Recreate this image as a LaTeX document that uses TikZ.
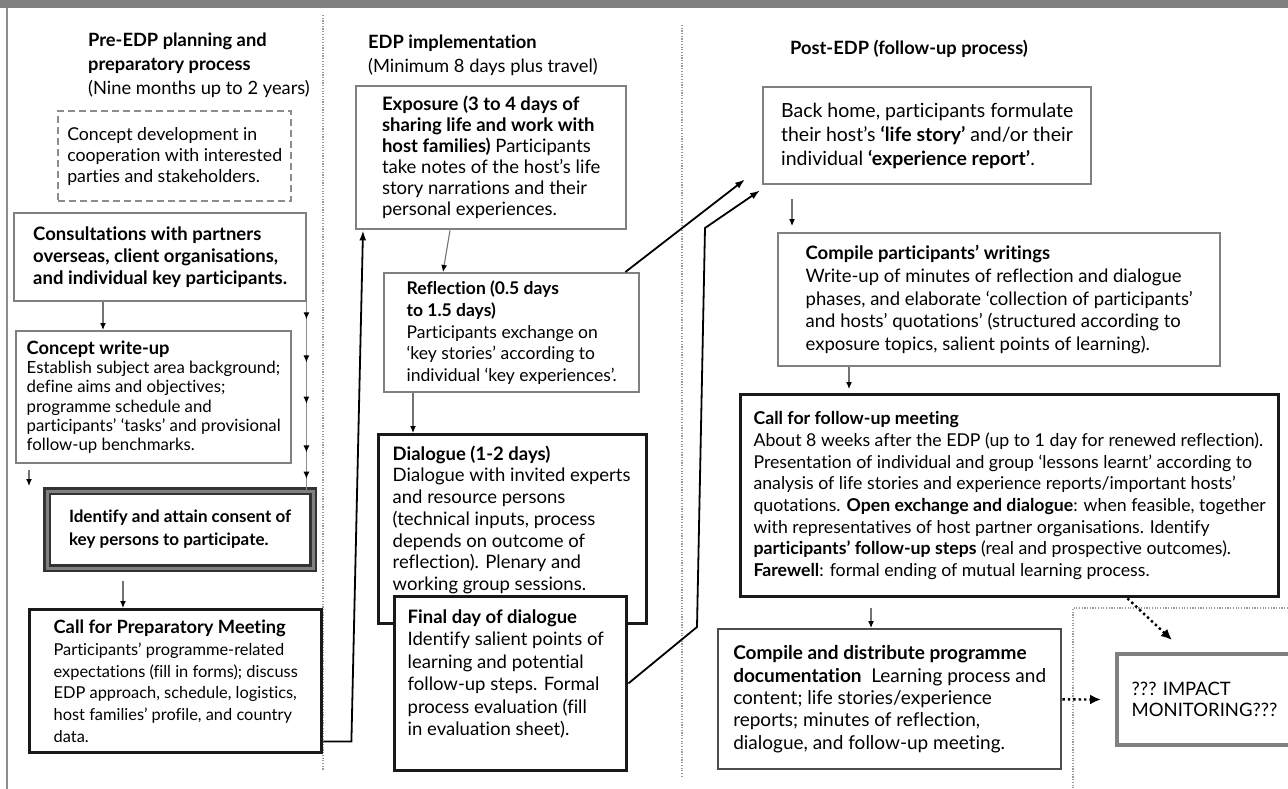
\documentclass[tikz,border=0pt]{standalone}
\usepackage{fontspec}
\setmainfont{Lato}[Ligatures={TeX,NoCommon}]
\usetikzlibrary{arrows.meta,decorations.markings}

\newcommand{\bodyfont}{\fontsize{18.5}{21.7}\selectfont}
\newcommand{\headfont}{\fontsize{18.3}{24}\selectfont}
\newcommand{\boxhead}{\fontsize{18.3}{21.7}\selectfont\bfseries}

\tikzset{
  stage/.style={draw=black!50, line width=2.4pt, fill=white, anchor=north west,
    align=left, inner sep=0pt},
  keystage/.style={stage, draw=black!90, line width=3.4pt},
  consentstage/.style={stage, draw=black!80, line width=2.2pt, double=black!50,
    double distance=3pt},
  ideastage/.style={stage, draw=black!45, dash pattern=on 7pt off 4pt},
  phase/.style={anchor=north west, align=left, inner sep=0pt, font=\headfont},
  flow/.style={draw=black!55, line width=1.1pt, -{Latex[length=7pt,width=6pt,color=black]}},
  link/.style={draw=black, line width=1.8pt, -{Latex[length=10pt,width=7pt]}},
  dotlink/.style={draw=black, line width=2.4pt, dash pattern=on 2.4pt off 3pt,
    -{Latex[length=11pt,width=10pt]}},
  divider/.style={draw=black!40, line width=1.6pt, dash pattern=on 1.2pt off 1.5pt}
}

\begin{document}
\begin{tikzpicture}[x=1pt, y=-1pt, every node/.style={font=\bodyfont}]
\useasboundingbox (0,0) rectangle (1288,789);

% frame and phase dividers
\fill[black!50] (0,0) rectangle (1288,8);
\draw[black!45, line width=2pt] (7,8) -- (7,789);
\draw[divider] (323,15) -- (323,770);
\draw[divider] (682,25) -- (682,778);
\draw[divider] (1288,608) -- (1073,608) -- (1073,789);

% phase headings
\node[phase] (pre) at (88,33) {\textbf{Pre-EDP planning and}\\\textbf{preparatory process}\\(Nine months up to 2 years)};
\node[phase] (edp) at (368,35) {\textbf{EDP implementation}\\(Minimum 8 days plus travel)};
\node[phase] (post) at (790,40) {\textbf{Post-EDP (follow-up process)}};

% pre-EDP
\node[ideastage, minimum width=233pt, minimum height=90pt, font=\fontsize{17.7}{21}\selectfont] (idea) at (57,110)
  {Concept development in\\cooperation with interested\\parties and stakeholders.};
\node[stage, minimum width=292pt, minimum height=88pt, font=\bodyfont\bfseries] (cons) at (13,212)
  {Consultations with partners\\overseas, client organisations,\\and individual key participants.};
\node[stage, minimum width=275pt, minimum height=132pt, font=\fontsize{16.8}{19.2}\selectfont] (cwu) at (15,330)
  {{\boxhead Concept write-up}\\Establish subject area background;\\define aims and objectives;\\programme schedule and\\participants' `tasks' and provisional\\follow-up benchmarks.};
\node[consentstage, minimum width=266pt, minimum height=77pt, font=\fontsize{17}{23}\selectfont\bfseries] (ident) at (46,490)
  {Identify and attain consent of\\key persons to participate.};
\node[keystage, minimum width=292pt, minimum height=143pt, font=\fontsize{16.4}{21.7}\selectfont] (prep) at (28,608)
  {{\boxhead Call for Preparatory Meeting}\\Participants' programme-related\\expectations (fill in forms); discuss\\EDP approach, schedule, logistics,\\host families' profile, and country\\data.};

% EDP implementation
\node[stage, minimum width=270pt, minimum height=143pt, font=\fontsize{18.5}{21}\selectfont] (expo) at (355,85)
  {\textbf{Exposure (3 to 4 days of}\\\textbf{sharing life and work with}\\\textbf{host families)} Participants\\take notes of the host's life\\story narrations and their\\personal experiences.};
\node[stage, minimum width=255pt, minimum height=119pt, font=\fontsize{17.5}{21.7}\selectfont] (refl) at (383,272)
  {\textbf{Reflection (0.5 days}\\\textbf{to 1.5 days)}\\Participants exchange on\\`key stories' according to\\individual `key experiences'.};
\node[keystage, minimum width=268pt, minimum height=189pt] (dial) at (377,433)
  {\parbox[c][167pt][t]{240pt}{\raggedright\textbf{Dialogue (1-2 days)}\\Dialogue with invited experts\\and resource persons\\(technical inputs, process\\depends on outcome of\\reflection). Plenary and\\working group sessions.}};
\node[keystage, minimum width=232pt, minimum height=174pt, font=\fontsize{18.5}{22.5}\selectfont] (final) at (393,595)
  {\parbox[c][148pt][t]{206pt}{\raggedright\textbf{Final day of dialogue}\\Identify salient points of\\learning and potential\\follow-up steps. Formal\\process evaluation (fill\\in evaluation sheet).}};

% post-EDP
\node[stage, minimum width=328pt, minimum height=97pt, font=\fontsize{19.5}{24}\selectfont] (home) at (762,86)
  {Back home, participants formulate\\their host's \textbf{`life story'} and/or their\\individual \textbf{`experience report'}.};
\node[stage, minimum width=442pt, minimum height=133pt, font=\fontsize{18.5}{22.7}\selectfont] (writ) at (777,232)
  {\textbf{Compile participants' writings}\\Write-up of minutes of reflection and dialogue\\phases, and elaborate `collection of participants'\\and hosts' quotations' (structured according to\\exposure topics, salient points of learning).};
\node[keystage, minimum width=538pt, minimum height=202pt, font=\fontsize{17.7}{21.7}\selectfont] (fmeet) at (739,393)
  {\textbf{Call for follow-up meeting}\\About 8 weeks after the EDP (up to 1 day for renewed reflection).\\Presentation of individual and group `lessons learnt' according to\\analysis of life stories and experience reports/important hosts'\\quotations. \textbf{Open exchange and dialogue}: when feasible, together\\with representatives of host partner organisations. Identify\\\textbf{participants' follow-up steps} (real and prospective outcomes).\\\textbf{Farewell}: formal ending of mutual learning process.};
\node[stage, draw=black!70, minimum width=343pt, minimum height=140pt, font=\fontsize{19}{22.3}\selectfont] (docu) at (717,628)
  {\textbf{Compile and distribute programme}\\\textbf{documentation}\ \ Learning process and\\content; life stories/experience\\reports; minutes of reflection,\\dialogue, and follow-up meeting.};
\node[stage, line width=4pt, minimum width=175pt, minimum height=91pt] (impact) at (1115,652)
  {??? IMPACT\\MONITORING???};

% bends and loose ends
\coordinate (cwutip) at (29,486);
\coordinate (bendlow) at (697,627);
\coordinate (bendhigh) at (705,228);

% pre-EDP flow
\draw[flow] ([xshift=90pt]cons.south west) -- ([xshift=88pt]cwu.north west);
\draw[flow] ([xshift=14pt,yshift=-6pt]cwu.south west) -- (cwutip);
\draw[draw=black!45, line width=1.1pt, postaction={decorate}, decoration={markings,
    mark=at position 0.09 with {\arrow{Latex[length=7pt,width=6pt,color=black]}},
    mark=at position 0.32 with {\arrow{Latex[length=7pt,width=6pt,color=black]}},
    mark=at position 0.54 with {\arrow{Latex[length=7pt,width=6pt,color=black]}},
    mark=at position 0.80 with {\arrow{Latex[length=7pt,width=6pt,color=black]}},
    mark=at position 0.94 with {\arrow{Latex[length=7pt,width=6pt,color=black]}}}]
  ([xshift=-1pt]cons.south east) -- ([xshift=-1pt]cons.south east |- ident.north east);
\draw[flow] ([xshift=77pt,yshift=-12pt]ident.south west) -- ([xshift=95pt]prep.north west);
\draw[link] ([yshift=13pt]prep.south east) -- ++(28,0) -- ([xshift=8pt]expo.south west);

% EDP flow
\draw[flow] ([xshift=95pt]expo.south west) -- ([xshift=60pt]refl.north west);
\draw[flow] ([xshift=30pt]refl.south west) -- ([xshift=36pt]dial.north west);
\draw[link] ([xshift=-15pt]refl.north east) -- ([xshift=-17pt,yshift=6pt]home.south west);
\draw[link] ([yshift=89pt]final.south east) -- (bendlow) -- (bendhigh)
  -- ([xshift=-2pt,yshift=-5pt]home.south west);

% post-EDP flow
\draw[flow, shorten <=14pt, shorten >=6pt] ([xshift=30pt]home.south west) -- ([xshift=15pt]writ.north west);
\draw[flow, shorten >=4pt] ([xshift=72pt]writ.south west) -- ([xshift=110pt]fmeet.north west);
\draw[flow, shorten <=10pt] ([xshift=132pt]fmeet.south west) -- ([xshift=154pt]docu.north west);
\draw[dotlink] ([xshift=-153pt]fmeet.south east) -- ([xshift=57pt,yshift=12pt]impact.north west);
\draw[dotlink] ([yshift=71pt]docu.south east) -- ([xshift=-14pt]impact.west);
\end{tikzpicture}
\end{document}
